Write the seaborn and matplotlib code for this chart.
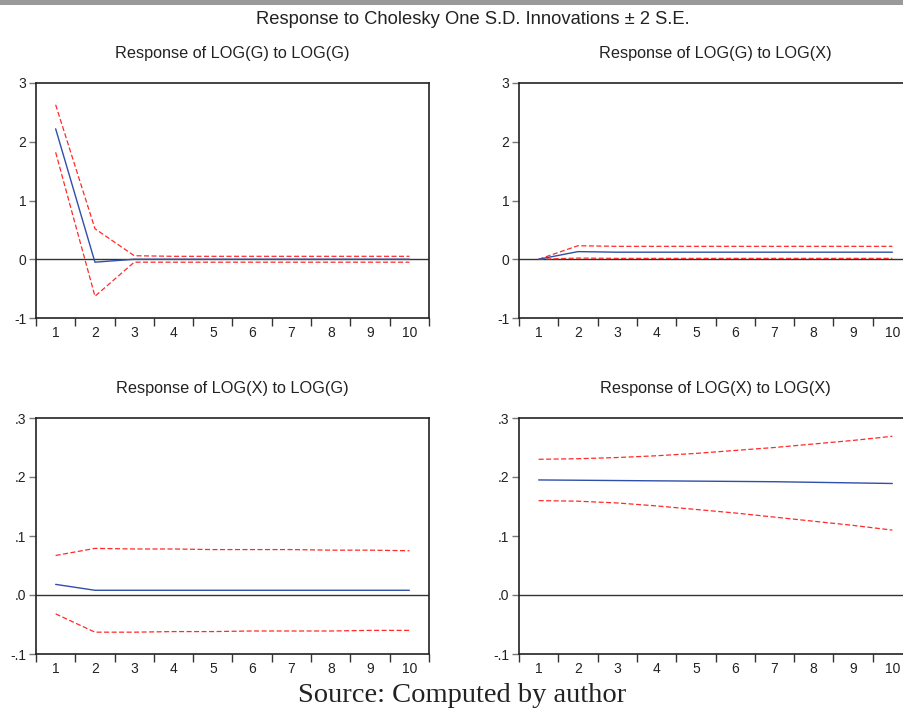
import numpy as np
import pandas as pd
import matplotlib
matplotlib.use("Agg")
import matplotlib.pyplot as plt
import seaborn as sns
from matplotlib.patches import Rectangle

sns.set_theme(style="white")
plt.rcParams['font.family'] = ['Liberation Sans', 'DejaVu Sans']

periods = [1, 2, 3, 4, 5, 6, 7, 8, 9, 10]

# Response of LOG(G) to LOG(G)
gg_resp = [2.22, -0.05, 0.0, 0.0, 0.0, 0.0, 0.0, 0.0, 0.0, 0.0]
gg_upper = [2.63, 0.52, 0.06, 0.05, 0.05, 0.05, 0.05, 0.05, 0.05, 0.05]
gg_lower = [1.82, -0.63, -0.05, -0.05, -0.05, -0.05, -0.05, -0.05, -0.05, -0.05]

# Response of LOG(G) to LOG(X)
gx_resp = [0.0, 0.13, 0.12, 0.12, 0.12, 0.12, 0.12, 0.12, 0.12, 0.12]
gx_upper = [0.0, 0.23, 0.22, 0.22, 0.22, 0.22, 0.22, 0.22, 0.22, 0.22]
gx_lower = [0.0, 0.02, 0.015, 0.015, 0.015, 0.015, 0.015, 0.015, 0.015, 0.015]

# Response of LOG(X) to LOG(G)
xg_resp = [0.018, 0.008, 0.008, 0.008, 0.008, 0.008, 0.008, 0.008, 0.008, 0.008]
xg_upper = [0.067, 0.079, 0.078, 0.078, 0.077, 0.077, 0.077, 0.076, 0.076, 0.075]
xg_lower = [-0.032, -0.063, -0.063, -0.062, -0.062, -0.061, -0.061, -0.061, -0.060, -0.060]

# Response of LOG(X) to LOG(X)
xx_resp = [0.195, 0.1945, 0.194, 0.1935, 0.193, 0.1925, 0.192, 0.191, 0.190, 0.189]
xx_upper = [0.230, 0.231, 0.233, 0.236, 0.240, 0.245, 0.250, 0.256, 0.262, 0.269]
xx_lower = [0.160, 0.159, 0.156, 0.151, 0.145, 0.139, 0.132, 0.125, 0.118, 0.110]

top_ticks = [-1, 0, 1, 2, 3]
top_labels = ["-1", "0", "1", "2", "3"]
bot_ticks = [-0.1, 0.0, 0.1, 0.2, 0.3]
bot_labels = ["-.1", ".0", ".1", ".2", ".3"]

panels = [
    ("Response of LOG(G) to LOG(G)", gg_resp, gg_upper, gg_lower, top_ticks, top_labels),
    ("Response of LOG(G) to LOG(X)", gx_resp, gx_upper, gx_lower, top_ticks, top_labels),
    ("Response of LOG(X) to LOG(G)", xg_resp, xg_upper, xg_lower, bot_ticks, bot_labels),
    ("Response of LOG(X) to LOG(X)", xx_resp, xx_upper, xx_lower, bot_ticks, bot_labels),
]

W, H = 904, 709
fig = plt.figure(figsize=(W / 100, H / 100), dpi=100)
fig.patch.set_facecolor("white")
fig.add_artist(Rectangle((0, 1 - 5 / H), 1, 5 / H, transform=fig.transFigure,
                         color="#9a9a9a", lw=0))

lefts = [36, 519, 36, 519]
tops = [83, 83, 418, 418]
bottoms = [318, 318, 654, 654]
aw = 393

blue = "#2f4fa8"
red = "#ff2a2a"

for (title, resp, up, lo, yt, yl), l, t, b in zip(panels, lefts, tops, bottoms):
    ax = fig.add_axes([l / W, 1 - b / H, aw / W, (b - t) / H])
    ax.axhline(0, color="#333333", lw=1.0, zorder=1)
    sns.lineplot(x=periods, y=up, ax=ax, color=red, lw=0.9, linestyle=(0, (4, 2)))
    sns.lineplot(x=periods, y=lo, ax=ax, color=red, lw=0.9, linestyle=(0, (4, 2)))
    sns.lineplot(x=periods, y=resp, ax=ax, color=blue, lw=1.0)
    ax.set_xlim(0.5, 10.5)
    ax.set_ylim(yt[0], yt[-1])
    ax.set_yticks(yt)
    ax.set_yticklabels(yl)
    ax.set_xticks(periods)
    ax.set_xticklabels([str(p) for p in periods])
    ax.set_xticks(np.arange(0.5, 11, 1), minor=True)
    ax.tick_params(axis="x", which="major", length=0, labelsize=10, pad=6, colors="#222222")
    ax.tick_params(axis="x", which="minor", length=6, width=1, direction="out",
                   bottom=True, color="#333333")
    ax.tick_params(axis="y", which="major", length=5, width=1, direction="out",
                   left=True, labelsize=10, pad=2, colors="#222222")
    ax.tick_params(axis="y", which="major", color="#777777")
    for s in ax.spines.values():
        s.set_color("#222222")
        s.set_linewidth(1.2)
    ax.set_xlabel("")
    ax.set_ylabel("")
    ax.set_title(title, fontsize=11.7, pad=18, color="#222222")

fig.text(0.523, 1 - 19.5 / H, "Response to Cholesky One S.D. Innovations \u00b1 2 S.E.",
         ha="center", va="center", fontsize=13.2, color="#222222")
fig.text(0.511, 1 - 695 / H, "Source: Computed by author", ha="center", va="center",
         fontsize=20.5, family=["Liberation Serif", "DejaVu Serif"], color="#222222")

fig.savefig("out.png", dpi=100)
